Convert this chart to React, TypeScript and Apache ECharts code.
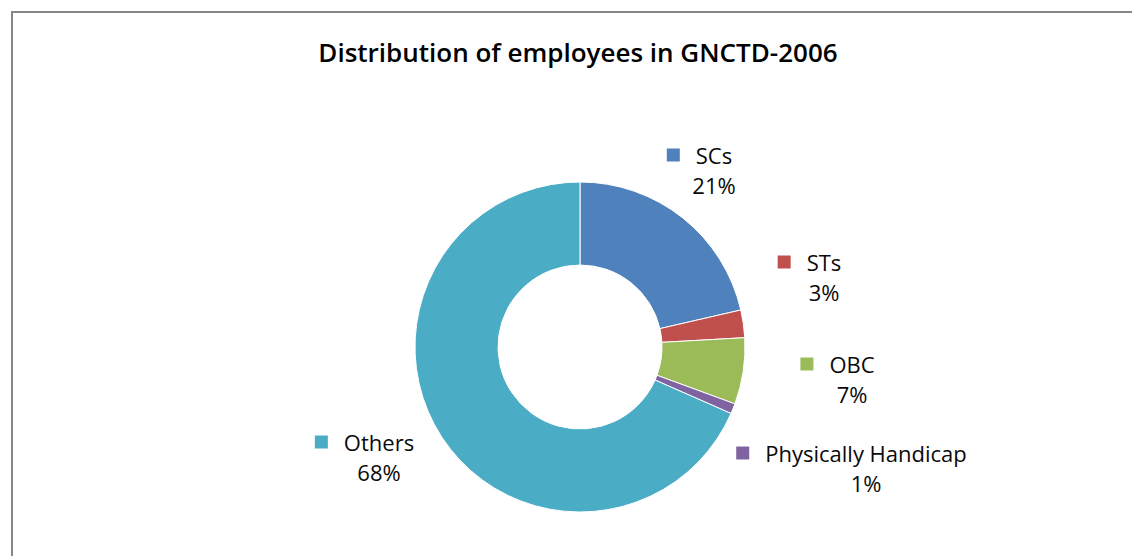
import React, { useEffect, useRef } from "react";
import * as echarts from "echarts";

const TITLE = "Distribution of employees in GNCTD-2006";
const categories = ["SCs", "STs", "OBC", "Physically Handicap", "Others"];
const values = [21.4, 2.7, 6.5, 1.0, 68.4];
const colors = ["#4F81BD", "#C0504D", "#9BBB59", "#8064A2", "#4BACC6"];
// label block centres (text centre x, block centre y)
const LABEL_POS: [number, number][] = [
  [714, 170],
  [824, 277],
  [852, 379],
  [866, 468],
  [379, 457],
];

const FONT = "'Open Sans', 'Liberation Sans', sans-serif";

export default function App() {
  const ref = useRef<HTMLDivElement>(null);
  useEffect(() => {
    document.body.style.margin = "0";
    const chart = echarts.init(ref.current!, null, { renderer: "svg" });
    const data = categories.map((name, i) => ({
      name,
      value: values[i],
      itemStyle: { color: colors[i] },
      label: {
        rich: {
          sq: { width: 13, height: 13, backgroundColor: colors[i] },
        },
      },
    }));
    chart.setOption({
      animation: false,
      backgroundColor: "#ffffff",
      graphic: [
        {
          type: "line",
          shape: { x1: 11, y1: 12, x2: 1132, y2: 12 },
          style: { stroke: "#878787", lineWidth: 2 },
        },
        {
          type: "line",
          shape: { x1: 12, y1: 11, x2: 12, y2: 556 },
          style: { stroke: "#878787", lineWidth: 2 },
        },
        {
          type: "text",
          x: 578,
          y: 52,
          style: {
            text: TITLE,
            fill: "#000",
            font: `600 26px ${FONT}`,
            align: "center",
            verticalAlign: "middle",
          },
        },
      ],
      series: [
        {
          type: "pie",
          center: [580, 347],
          radius: [82, 165],
          startAngle: 90,
          clockwise: true,
          percentPrecision: 0,
          itemStyle: { borderColor: "#ffffff", borderWidth: 1 },
          emphasis: { disabled: true },
          labelLine: { show: false },
          label: {
            show: true,
            position: "outside",
            formatter: (p: any) =>
              `{sq|}{gap|}{name|${p.name}}{pad|}\n{pct|${p.percent}%}`,
            align: "center",
            rich: {
              gap: { width: 16 },
              pad: { width: 29 },
              name: { fontSize: 22, fontFamily: FONT, color: "#0a0a0a", lineHeight: 30 },
              pct: { fontSize: 22, fontFamily: FONT, color: "#0a0a0a", lineHeight: 30 },
            },
          },
          labelLayout: (params: any) => {
            const pos = LABEL_POS[params.dataIndex];
            return {
              x: pos[0],
              y: pos[1],
              align: "center",
              verticalAlign: "middle",
              hideOverlap: false,
            };
          },
          data,
        },
      ],
    });
    return () => chart.dispose();
  }, []);
  return <div ref={ref} style={{ width: 1132, height: 556 }} />;
}
